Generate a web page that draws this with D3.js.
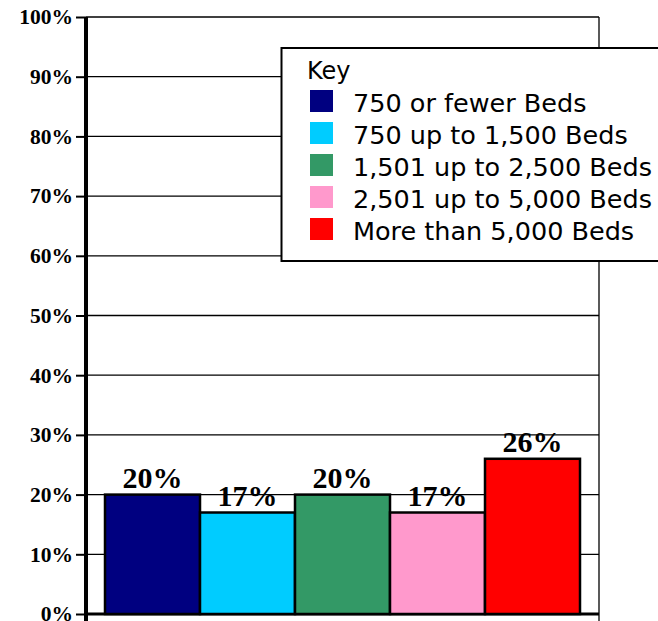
<!DOCTYPE html>
<html><head><meta charset="utf-8">
<script src="https://cdn.jsdelivr.net/npm/d3@7"></script>
<style>html,body{margin:0;padding:0;background:#fff;}svg{display:block;}</style>
</head><body>
<svg id="c" width="658" height="621"></svg>
<script>
const categories = ["750 or fewer Beds","750 up to 1,500 Beds","1,501 up to 2,500 Beds","2,501 up to 5,000 Beds","More than 5,000 Beds"];
const values = [20, 17, 20, 17, 26];
const colors = ["#000080","#00CCFF","#339966","#FF99CC","#FF0000"];
const yTicks = [0,10,20,30,40,50,60,70,80,90,100];

const svg = d3.select("#c");
const mLeft = 86, mRight = 599, mTop = 17, mBottom = 614;
const x = d3.scaleBand().domain(categories).range([mLeft, mRight]).paddingInner(0).paddingOuter(0.2);
const y = d3.scaleLinear().domain([0,100]).range([mBottom, mTop]);

// gridlines
svg.append("g").selectAll("line").data(yTicks).join("line")
  .attr("x1", mLeft).attr("x2", mRight)
  .attr("y1", d=>y(d)).attr("y2", d=>y(d))
  .attr("stroke","#000").attr("stroke-width",1.3);
// right border
svg.append("line").attr("x1",mRight).attr("x2",mRight).attr("y1",mTop).attr("y2",mBottom+7)
  .attr("stroke","#000").attr("stroke-width",1.3);

// y axis
const yAxis = d3.axisLeft(y).tickValues(yTicks).tickFormat(d=>d+"%").tickSize(10).tickPadding(3);
const ga = svg.append("g").attr("transform",`translate(${mLeft},0)`).call(yAxis);
ga.select(".domain").remove();
ga.selectAll(".tick line").attr("stroke","#000").attr("stroke-width",2);
ga.selectAll(".tick text").attr("font-family","'Liberation Serif', 'Times New Roman', serif")
  .attr("font-weight","bold").attr("font-size","21.5px").attr("fill","#000");
svg.append("line").attr("x1",mLeft).attr("x2",mLeft).attr("y1",mTop).attr("y2",mBottom+7)
  .attr("stroke","#000").attr("stroke-width",4);
// bottom axis
svg.append("line").attr("x1",mLeft).attr("x2",mRight).attr("y1",mBottom).attr("y2",mBottom)
  .attr("stroke","#000").attr("stroke-width",3);

// bars
svg.append("g").selectAll("rect").data(values).join("rect")
  .attr("x",(d,i)=>x(categories[i]))
  .attr("y",d=>y(d))
  .attr("width",x.bandwidth())
  .attr("height",d=>y(0)-y(d))
  .attr("fill",(d,i)=>colors[i])
  .attr("stroke","#000").attr("stroke-width",2.5);

// labels
svg.append("g").selectAll("text").data(values).join("text")
  .attr("x",(d,i)=>x(categories[i])+x.bandwidth()/2)
  .attr("y",d=>y(d)-7)
  .attr("text-anchor","middle")
  .attr("font-family","'Liberation Serif', 'Times New Roman', serif")
  .attr("font-weight","bold").attr("font-size","30px").attr("fill","#000")
  .text(d=>d+"%");

// legend
const lg = svg.append("g");
lg.append("rect").attr("x",281.5).attr("y",48).attr("width",400).attr("height",213)
  .attr("fill","#fff").attr("stroke","#000").attr("stroke-width",2);
lg.append("text").attr("x",307).attr("y",79).attr("font-family","'DejaVu Sans', Tahoma, sans-serif")
  .attr("font-size","24px").attr("fill","#000").text("Key");
const rows = lg.selectAll("g.row").data(categories).join("g").attr("class","row")
  .attr("transform",(d,i)=>`translate(0,${90 + i*32})`);
rows.append("rect").attr("x",310).attr("y",0).attr("width",23).attr("height",22)
  .attr("fill",(d,i)=>colors[i]);
rows.append("text").attr("x",353).attr("y",21.5)
  .attr("font-family","'DejaVu Sans', Tahoma, sans-serif").attr("font-size","25.5px")
  .attr("fill","#000").text(d=>d);
</script>
</body></html>
